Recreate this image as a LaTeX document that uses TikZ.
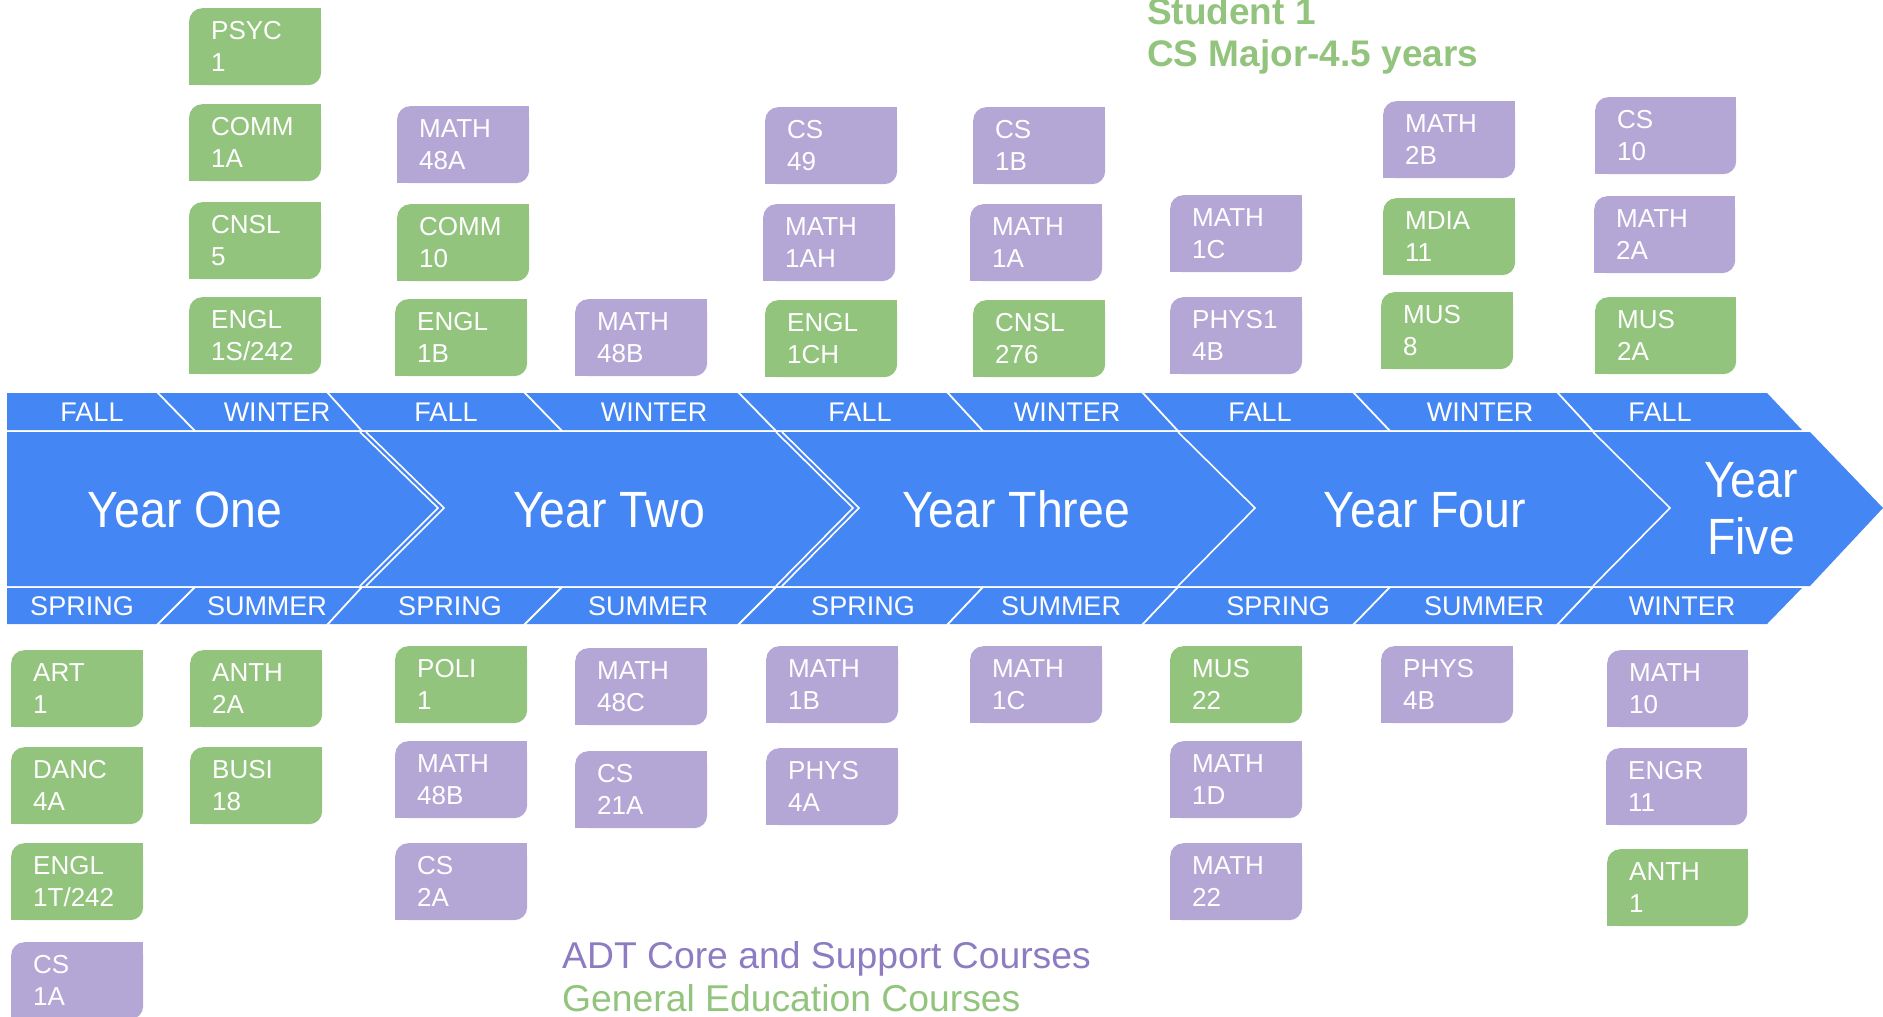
\documentclass[tikz,border=0pt]{standalone}
\usepackage{fontspec}
\setmainfont{Liberation Sans}
\newfontfamily\yearfont[FakeStretch=0.91]{Liberation Sans}
\definecolor{bannerblue}{HTML}{4486F4}
\definecolor{gegreen}{HTML}{93C47D}
\definecolor{adtpurple}{HTML}{B4A7D6}
\definecolor{legendpurple}{HTML}{8E7CC3}
\tikzset{
  coursebox/.style={anchor=north west, inner sep=0pt, minimum height=77pt,
    minimum width=132pt, text width=88pt, align=left, text=white,
    font=\fontsize{26pt}{32pt}\selectfont,
    path picture={
      \fill[#1, rounded corners=13pt] (path picture bounding box.south west) rectangle (path picture bounding box.north east);
      \fill[#1] (path picture bounding box.north east) rectangle ++(-15pt,-15pt);
      \fill[#1] (path picture bounding box.south west) rectangle ++(15pt,15pt);
    }},
  ge/.style={coursebox=gegreen},
  adt/.style={coursebox=adtpurple},
  wide/.style={minimum width=141pt, text width=97pt},
  season/.style={text=white, inner sep=0pt, anchor=base, font=\fontsize{27pt}{30pt}\selectfont},
  yearlab/.style={text=white, inner sep=0pt, anchor=base, align=center, font=\yearfont\fontsize{51pt}{57pt}\selectfont},
  sepline/.style={white, line width=1.8pt},
  chevline/.style={white, line width=1.6pt, line join=miter},
}
\begin{document}
\begin{tikzpicture}[x=1pt,y=-1pt]
\useasboundingbox (0,0) rectangle (1883,1017);
% banner
\fill[bannerblue] (7,393) -- (1767,393) -- (1802,430) -- (7,430) -- cycle;
\fill[bannerblue] (7,432) -- (1810,432) -- (1883,508) -- (1810,586) -- (7,586) -- cycle;
\fill[bannerblue] (7,588) -- (1802,588) -- (1767,624) -- (7,624) -- cycle;
% intra-year separators
\foreach \a/\b in {157/195, 524/562, 947/983, 1353/1390}{
  \draw[sepline] (\a,392) -- (\b,431);
  \draw[sepline] (\b,587) -- (\a,625);
}
% year boundaries in strips
\foreach \a/\b in {327/362, 738/776, 1142/1178, 1557/1593}{
  \draw[sepline] (\a,392) -- (\b,431);
  \draw[sepline] (\b,587) -- (\a,625);
}
% chevrons
\draw[chevline] (360,432) -- (438,508) -- (360,586);
\draw[chevline] (366,432) -- (444,508) -- (366,586);
\draw[chevline] (776,432) -- (853,508) -- (776,586);
\draw[chevline] (782,432) -- (859,508) -- (782,586);
\draw[chevline] (1178,432) -- (1255,508) -- (1178,586);
\draw[chevline] (1593,432) -- (1670,508) -- (1593,586);
% seasons top
\node[season] (s1) at (92,421) {FALL};
\node[season] (s2) at (277,421) {WINTER};
\node[season] (s3) at (446,421) {FALL};
\node[season] (s4) at (654,421) {WINTER};
\node[season] (s5) at (860,421) {FALL};
\node[season] (s6) at (1067,421) {WINTER};
\node[season] (s7) at (1260,421) {FALL};
\node[season] (s8) at (1480,421) {WINTER};
\node[season] (s9) at (1660,421) {FALL};
% seasons bottom
\node[season] (b1) at (82,615) {SPRING};
\node[season] (b2) at (267,615) {SUMMER};
\node[season] (b3) at (450,615) {SPRING};
\node[season] (b4) at (648,615) {SUMMER};
\node[season] (b5) at (863,615) {SPRING};
\node[season] (b6) at (1061,615) {SUMMER};
\node[season] (b7) at (1278,615) {SPRING};
\node[season] (b8) at (1484,615) {SUMMER};
\node[season] (b9) at (1682,615) {WINTER};
% years
\node[yearlab] (y1) at (185,527) {Year One};
\node[yearlab] (y2) at (609,527) {Year Two};
\node[yearlab] (y3) at (1016,527) {Year Three};
\node[yearlab] (y4) at (1425,527) {Year Four};
\node[yearlab, anchor=center] (y5) at (1751,509) {Year\\Five};
% top courses
\node[ge] (psyc1) at (189,8) {PSYC\\1};
\node[ge] (comm1a) at (189,104) {COMM\\1A};
\node[ge] (cnsl5) at (189,202) {CNSL\\5};
\node[ge] (engl1s) at (189,297) {ENGL\\1S/242};
\node[adt] (math48a) at (397,106) {MATH\\48A};
\node[ge] (comm10) at (397,204) {COMM\\10};
\node[ge] (engl1b) at (395,299) {ENGL\\1B};
\node[adt] (math48bt) at (575,299) {MATH\\48B};
\node[adt] (cs49) at (765,107) {CS\\49};
\node[adt] (math1ah) at (763,204) {MATH\\1AH};
\node[ge] (engl1ch) at (765,300) {ENGL\\1CH};
\node[adt] (cs1b) at (973,107) {CS\\1B};
\node[adt] (math1a) at (970,204) {MATH\\1A};
\node[ge] (cnsl276) at (973,300) {CNSL\\276};
\node[adt] (math1ct) at (1170,195) {MATH\\1C};
\node[adt] (phys4bt) at (1170,297) {PHYS1\\4B};
\node[adt] (math2b) at (1383,101) {MATH\\2B};
\node[ge] (mdia11) at (1383,198) {MDIA\\11};
\node[ge] (mus8) at (1381,292) {MUS\\8};
\node[adt, wide] (cs10) at (1595,97) {CS\\10};
\node[adt, wide] (math2a) at (1594,196) {MATH\\2A};
\node[ge, wide] (mus2a) at (1595,297) {MUS\\2A};
% bottom courses
\node[ge] (art1) at (11,650) {ART\\1};
\node[ge] (danc4a) at (11,747) {DANC\\4A};
\node[ge] (engl1t) at (11,843) {ENGL\\1T/242};
\node[adt] (cs1a) at (11,942) {CS\\1A};
\node[ge] (anth2a) at (190,650) {ANTH\\2A};
\node[ge] (busi18) at (190,747) {BUSI\\18};
\node[ge] (poli1) at (395,646) {POLI\\1};
\node[adt] (math48bb) at (395,741) {MATH\\48B};
\node[adt] (cs2a) at (395,843) {CS\\2A};
\node[adt] (math48c) at (575,648) {MATH\\48C};
\node[adt] (cs21a) at (575,751) {CS\\21A};
\node[adt] (math1b) at (766,646) {MATH\\1B};
\node[adt] (phys4a) at (766,748) {PHYS\\4A};
\node[adt] (math1cb) at (970,646) {MATH\\1C};
\node[ge] (mus22) at (1170,646) {MUS\\22};
\node[adt] (math1d) at (1170,741) {MATH\\1D};
\node[adt] (math22) at (1170,843) {MATH\\22};
\node[adt] (phys4bb) at (1381,646) {PHYS\\4B};
\node[adt, wide] (math10) at (1607,650) {MATH\\10};
\node[adt, wide] (engr11) at (1606,748) {ENGR\\11};
\node[ge, wide] (anth1) at (1607,849) {ANTH\\1};
% title
\node[anchor=base west, inner sep=0pt, text=gegreen, font=\bfseries\fontsize{37pt}{42pt}\selectfont] (title1) at (1147,24) {Student 1};
\node[anchor=base west, inner sep=0pt, text=gegreen, font=\bfseries\fontsize{37pt}{42pt}\selectfont] (title2) at (1147,66) {CS Major-4.5 years};
% legend
\node[anchor=base west, inner sep=0pt, text=legendpurple, font=\fontsize{37.3pt}{44pt}\selectfont] (leg1) at (562,968) {ADT Core and Support Courses};
\node[anchor=base west, inner sep=0pt, text=gegreen, font=\fontsize{37.3pt}{44pt}\selectfont] (leg2) at (562,1011) {General Education Courses};
\end{tikzpicture}
\end{document}
